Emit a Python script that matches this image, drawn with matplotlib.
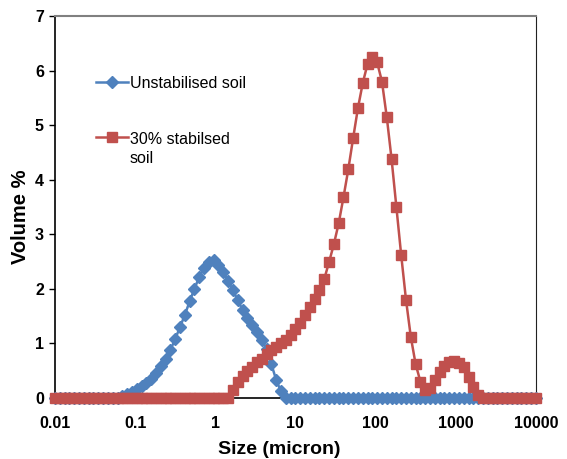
import matplotlib
matplotlib.use("Agg")
import matplotlib.pyplot as plt
import numpy as np

# Particle size classes (micron), 0.01 to 10000, 101 log-spaced bins
size_um = np.logspace(-2, 4, 101)

unstabilised = [
    0, 0, 0, 0, 0, 0, 0, 0, 0, 0,
    0, 0, 0, 0, 0.04, 0.07, 0.11, 0.16, 0.22, 0.28,
    0.35, 0.45, 0.58, 0.72, 0.88, 1.08, 1.30, 1.52, 1.77, 2.00,
    2.22, 2.39, 2.50, 2.53, 2.44, 2.31, 2.14, 1.98, 1.79, 1.62,
    1.47, 1.33, 1.20, 1.06, 0.90, 0.62, 0.33, 0.12, 0, 0,
    0, 0, 0, 0, 0, 0, 0, 0, 0, 0,
    0, 0, 0, 0, 0, 0, 0, 0, 0, 0,
    0, 0, 0, 0, 0, 0, 0, 0, 0, 0,
    0, 0, 0, 0, 0, 0, 0, 0, 0, 0,
    0, 0, 0, 0, 0, 0, 0, 0, 0, 0,
    0,
]

stabilised_30 = [
    0, 0, 0, 0, 0, 0, 0, 0, 0, 0,
    0, 0, 0, 0, 0, 0, 0, 0, 0, 0,
    0, 0, 0, 0, 0, 0, 0, 0, 0, 0,
    0, 0, 0, 0, 0, 0, 0, 0.15, 0.30, 0.41,
    0.49, 0.57, 0.65, 0.72, 0.80, 0.88, 0.94, 1.00, 1.06, 1.15,
    1.26, 1.38, 1.52, 1.67, 1.82, 1.98, 2.18, 2.49, 2.82, 3.20,
    3.68, 4.19, 4.76, 5.31, 5.77, 6.12, 6.25, 6.15, 5.80, 5.15,
    4.38, 3.50, 2.62, 1.80, 1.12, 0.62, 0.30, 0.15, 0.18, 0.33,
    0.47, 0.58, 0.65, 0.68, 0.64, 0.56, 0.38, 0.20, 0.05, 0,
    0, 0, 0, 0, 0, 0, 0, 0, 0, 0,
    0,
]

x_ticks = [0.01, 0.1, 1, 10, 100, 1000, 10000]
x_tick_labels = ["0.01", "0.1", "1", "10", "100", "1000", "10000"]

blue = "#4F81BD"
red = "#C0504D"

plt.rcParams["font.family"] = ["Liberation Sans", "DejaVu Sans"]

fig = plt.figure(figsize=(5.67, 4.59), dpi=100)
ax = fig.add_axes([0.097, 0.133, 0.848, 0.832])

ax.plot(size_um, unstabilised, color=blue, lw=1.8, marker="D", ms=6.5,
        mec=blue, mfc=blue, clip_on=False, zorder=3, label="Unstabilised soil")
ax.plot(size_um, stabilised_30, color=red, lw=1.8, marker="s", ms=7.5,
        mec=red, mfc=red, clip_on=False, zorder=4, label="30% stabilsed\nsoil")

ax.set_xscale("log")
ax.set_xlim(0.01, 10000)
ax.set_ylim(0, 7)
ax.set_xticks(x_ticks)
ax.set_xticklabels(x_tick_labels)
ax.xaxis.set_minor_locator(matplotlib.ticker.NullLocator())
ax.set_yticks(range(0, 8))

ax.tick_params(axis="x", length=0, pad=13, labelsize=11.5)
ax.tick_params(axis="y", length=4, width=1, direction="out", pad=4, labelsize=11.5)
for lab in ax.get_xticklabels() + ax.get_yticklabels():
    lab.set_fontweight("bold")

ax.spines["top"].set_color("#808080")
ax.spines["top"].set_linewidth(1.5)
ax.spines["right"].set_color("#222222")
ax.spines["left"].set_linewidth(1.2)
ax.spines["bottom"].set_linewidth(1.2)

ax.set_xlabel("Size (micron)", fontsize=14, fontweight="bold")
ax.set_ylabel("Volume %", fontsize=14.5, fontweight="bold")
ax.xaxis.set_label_coords(0.466, -0.112)
ax.yaxis.set_label_coords(-0.052, 0.474)

leg = ax.legend(loc="upper left", bbox_to_anchor=(0.073, 0.86), frameon=False,
                fontsize=11.5, handlelength=2.0, handletextpad=0.1,
                labelspacing=2.55, borderaxespad=0)
for t in leg.get_texts():
    t.set_linespacing(1.4)
# keep the marker of the two-line entry level with its first line
for row in leg.get_children()[0].get_children()[1].get_children()[0].get_children():
    row.align = "top"

fig.savefig("out.png", dpi=100)
